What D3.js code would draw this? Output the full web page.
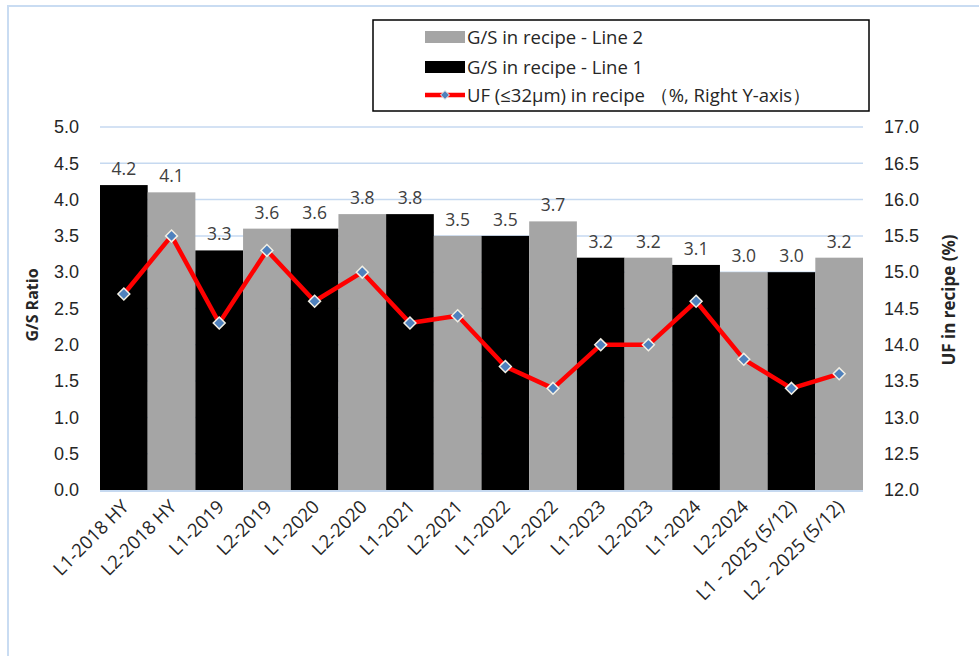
<!DOCTYPE html>
<html>
<head>
<meta charset="utf-8">
<script src="https://cdn.jsdelivr.net/npm/d3@7"></script>
<style>
  body { margin: 0; background: #fff; }
  svg { display: block; font-family: "Open Sans", sans-serif; }
</style>
</head>
<body>
<svg id="chart" width="979" height="656"></svg>
<script>
const categories = ['L1-2018 HY', 'L2-2018 HY', 'L1-2019', 'L2-2019', 'L1-2020', 'L2-2020',
    'L1-2021', 'L2-2021', 'L1-2022', 'L2-2022', 'L1-2023', 'L2-2023', 'L1-2024', 'L2-2024',
    'L1 - 2025 (5/12)', 'L2 - 2025 (5/12)'];
const lineNo = [1, 2, 1, 2, 1, 2, 1, 2, 1, 2, 1, 2, 1, 2, 1, 2];
const gsRatio = [4.2, 4.1, 3.3, 3.6, 3.6, 3.8, 3.8, 3.5, 3.5, 3.7, 3.2, 3.2, 3.1, 3.0, 3.0, 3.2];
const ufPct = [14.7, 15.5, 14.3, 15.3, 14.6, 15.0, 14.3, 14.4, 13.7, 13.4, 14.0, 14.0, 14.6, 13.8, 13.4, 13.6];
const leftTicks = d3.range(0, 5.01, 0.5);
const rightTicks = d3.range(12, 17.01, 0.5);
const legendItems = [
    { label: 'G/S in recipe - Line 2', type: 'bar', line: 2 },
    { label: 'G/S in recipe - Line 1', type: 'bar', line: 1 },
    { label: 'UF (≤32µm) in recipe （%, Right Y-axis）', type: 'line' }
];

const barColor = { 1: '#000000', 2: '#a5a5a5' };
const gridColor = '#c6d9f0';
const textColor = '#262626';

const svg = d3.select('#chart');
const m = { left: 100, right: 863, top: 127, bottom: 490 };

// outer frame
svg.append('rect')
    .attr('x', 8).attr('y', 6).attr('width', 1000).attr('height', 700)
    .attr('fill', 'none').attr('stroke', '#c9dcf2').attr('stroke-width', 2);

const x = d3.scaleBand().domain(categories).range([m.left, m.right]).padding(0);
const yL = d3.scaleLinear().domain([0, 5]).range([m.bottom, m.top]);
const yR = d3.scaleLinear().domain([12, 17]).range([m.bottom, m.top]);

// grid
svg.append('g').selectAll('line')
    .data(leftTicks.slice(1))
    .join('line')
    .attr('x1', m.left).attr('x2', m.right)
    .attr('y1', d => yL(d)).attr('y2', d => yL(d))
    .attr('stroke', gridColor).attr('stroke-width', 1.5);

// bars
svg.append('g').selectAll('rect')
    .data(categories)
    .join('rect')
    .attr('x', d => x(d))
    .attr('y', (d, i) => yL(gsRatio[i]))
    .attr('width', x.bandwidth())
    .attr('height', (d, i) => yL(0) - yL(gsRatio[i]))
    .attr('fill', (d, i) => barColor[lineNo[i]]);

// x axis line
svg.append('line')
    .attr('x1', m.left).attr('x2', m.right)
    .attr('y1', m.bottom + 1).attr('y2', m.bottom + 1)
    .attr('stroke', gridColor).attr('stroke-width', 2);

// bar value labels
svg.append('g').selectAll('text')
    .data(categories)
    .join('text')
    .attr('x', d => x(d) + x.bandwidth() / 2)
    .attr('y', (d, i) => yL(gsRatio[i]) - 10)
    .attr('text-anchor', 'middle')
    .attr('font-size', 17.5)
    .attr('fill', '#404040')
    .text((d, i) => gsRatio[i].toFixed(1));

// left axis
const axL = svg.append('g')
    .attr('transform', `translate(${m.left},0)`)
    .call(d3.axisLeft(yL).tickValues(leftTicks).tickFormat(d3.format('.1f')).tickSize(0).tickPadding(21));
axL.select('.domain').remove();
axL.selectAll('text').attr('font-size', 18).attr('fill', textColor).attr('font-family', null);

// right axis
const axR = svg.append('g')
    .attr('transform', `translate(${m.right},0)`)
    .call(d3.axisRight(yR).tickValues(rightTicks).tickFormat(d3.format('.1f')).tickSize(0).tickPadding(21));
axR.select('.domain').remove();
axR.selectAll('text').attr('font-size', 18).attr('fill', textColor).attr('font-family', null);

// x labels
svg.append('g').selectAll('text')
    .data(categories)
    .join('text')
    .attr('transform', d => `translate(${x(d) + x.bandwidth() / 2 + 6},${m.bottom + 18}) rotate(-45)`)
    .attr('text-anchor', 'end')
    .attr('font-size', 18.5)
    .attr('fill', textColor)
    .text(d => d);

// axis titles
svg.append('text')
    .attr('transform', `translate(38,305) rotate(-90)`)
    .attr('text-anchor', 'middle')
    .attr('font-size', 16).attr('font-weight', 'bold').attr('fill', textColor)
    .text('G/S Ratio');
svg.append('text')
    .attr('transform', `translate(955,300) rotate(-90)`)
    .attr('text-anchor', 'middle')
    .attr('font-size', 17).attr('font-weight', 'bold').attr('fill', textColor)
    .text('UF in recipe (%)');

// UF line
const line = d3.line()
    .x((d, i) => x(categories[i]) + x.bandwidth() / 2)
    .y(d => yR(d));
svg.append('path')
    .datum(ufPct)
    .attr('d', line)
    .attr('fill', 'none')
    .attr('stroke', '#ff0000')
    .attr('stroke-width', 4.5)
    .attr('stroke-linejoin', 'round');

const diamond = d3.symbol().type(d3.symbolDiamond2).size(90);
svg.append('g').selectAll('path')
    .data(ufPct)
    .join('path')
    .attr('transform', (d, i) => `translate(${x(categories[i]) + x.bandwidth() / 2},${yR(d)})`)
    .attr('d', diamond)
    .attr('fill', '#4f81bd')
    .attr('stroke', '#f2efe4')
    .attr('stroke-width', 1.5);

// legend
const lg = svg.append('g');
lg.append('rect')
    .attr('x', 373).attr('y', 20).attr('width', 496).attr('height', 91)
    .attr('fill', '#fff').attr('stroke', '#000').attr('stroke-width', 1.5);
const rowY = [37, 67, 95];
legendItems.forEach((it, i) => {
    const cy = rowY[i];
    if (it.type === 'bar') {
        lg.append('rect')
            .attr('x', 425).attr('y', cy - 6).attr('width', 40).attr('height', 12)
            .attr('fill', barColor[it.line]);
    } else {
        lg.append('line')
            .attr('x1', 425).attr('x2', 465).attr('y1', cy).attr('y2', cy)
            .attr('stroke', '#ff0000').attr('stroke-width', 4.5);
        lg.append('path')
            .attr('transform', `translate(445,${cy})`)
            .attr('d', d3.symbol().type(d3.symbolDiamond2).size(50))
            .attr('fill', '#4f81bd').attr('stroke', '#f2efe4').attr('stroke-width', 1);
    }
    lg.append('text')
        .attr('x', 467).attr('y', cy + 6.5)
        .attr('font-size', 18.5).attr('fill', textColor)
        .text(it.label);
});
</script>
</body>
</html>
